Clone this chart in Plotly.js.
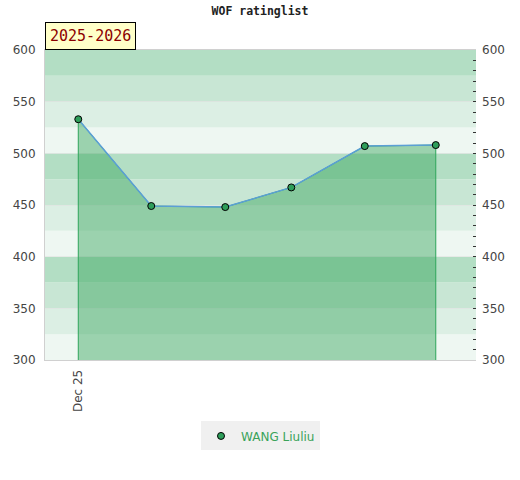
<!DOCTYPE html>
<html><head><meta charset="utf-8">
<script src="https://cdn.plot.ly/plotly-3.0.1.min.js"></script>
<style>html,body{margin:0;padding:0;background:#fff}#chart{width:520px;height:480px}</style>
</head><body><div id="chart"></div>
<script>
const dates = ["2025-12-01","2025-12-07 03:00","2025-12-13 08:00","2025-12-18 21:00","2025-12-25 01:00","2025-12-31"];
const ratings = [533, 449, 448, 467, 507, 508];
const playerName = "WANG Liuliu";
const seasonLabel = "2025-2026";
const chartTitle = "WOF ratinglist";
const xTickVals = ["2025-12-01"];
const xTickText = ["Dec 25"];
const yMin = 300, yMax = 600;
const bandColors = ["#eef7f2","#dcefe4","#c8e6d4","#b3dec4"];

const shapes = [];
for (let v = yMin, i = 0; v < yMax; v += 25, i++) {
  shapes.push({type:'rect', xref:'paper', yref:'y', x0:0, x1:1, y0:v, y1:v+25,
    fillcolor: bandColors[i % 4], line:{width:0}, layer:'below'});
}

const polyX = [dates[0]].concat(dates, [dates[dates.length-1]]);
const polyY = [yMin].concat(ratings, [yMin]);

const traces = [
  {x: polyX, y: polyY, type:'scatter', mode:'lines', fill:'toself',
   fillcolor:'rgba(54,164,92,0.45)', line:{color:'#2ea55a', width:1},
   hoverinfo:'skip', showlegend:false},
  {x: dates, y: ratings, type:'scatter', mode:'lines', showlegend:false,
   line:{color:'#5b9fd6', width:1.5}},
  {x: dates, y: ratings, type:'scatter', mode:'markers', name: playerName,
   marker:{color:'#2e9e5a', size:7, line:{color:'#000', width:1}}},
  {x: dates, y: ratings, yaxis:'y2', type:'scatter', mode:'none', showlegend:false, hoverinfo:'skip'}
];

const tickFont = {family:'DejaVu Sans, sans-serif', size:12, color:'#444'};
const layout = {
  width:520, height:480,
  margin:{l:45, r:44, t:50, b:120},
  paper_bgcolor:'#fff', plot_bgcolor:'rgba(0,0,0,0)',
  title:{text: chartTitle, x:0.5, xanchor:'center', y:0.985, yanchor:'top',
    font:{family:'DejaVu Sans Mono, monospace', size:11.5, color:'#222', weight:'bold'}},
  shapes: shapes,
  xaxis:{type:'date', range:["2025-11-28 05:00","2026-01-03 09:00"],
    tickvals:xTickVals, ticktext:xTickText, tickangle:-90, ticks:'',
    showgrid:false, zeroline:false, showline:true, linecolor:'#d0d0d0', mirror:true,
    tickfont:tickFont, fixedrange:true, ticklabelstandoff:4},
  yaxis:{range:[yMin,yMax], dtick:50, tick0:300, ticks:'', showgrid:true, gridcolor:'rgba(225,225,225,0.6)',
    zeroline:false, showline:true, linecolor:'#d0d0d0', tickfont:tickFont, ticklabelstandoff:6},
  yaxis2:{range:[yMin,yMax], overlaying:'y', side:'right', dtick:50, tick0:300,
    ticks:'inside', ticklen:3, tickcolor:'#333', showgrid:false, zeroline:false,
    minor:{dtick:10, ticks:'inside', ticklen:3, tickcolor:'#333'},
    tickfont:tickFont, ticklabelstandoff:5},
  legend:{orientation:'h', x:0.5, xanchor:'center', y:-0.245, yanchor:'middle',
    itemwidth:30, borderwidth:0,
    bgcolor:'#f0f0f0', font:{family:'DejaVu Sans, sans-serif', size:12, color:'#3aa35a'}},
  annotations:[{text: seasonLabel, xref:'paper', yref:'paper', x:0, y:1, xanchor:'left', yanchor:'bottom',
    showarrow:false, bgcolor:'#ffffc8', bordercolor:'#000', borderwidth:1, borderpad:4,
    font:{family:'DejaVu Sans Mono, monospace', size:15, color:'#8b0000'}}]
};
Plotly.newPlot('chart', traces, layout, {displayModeBar:false, staticPlot:true});
</script></body></html>
